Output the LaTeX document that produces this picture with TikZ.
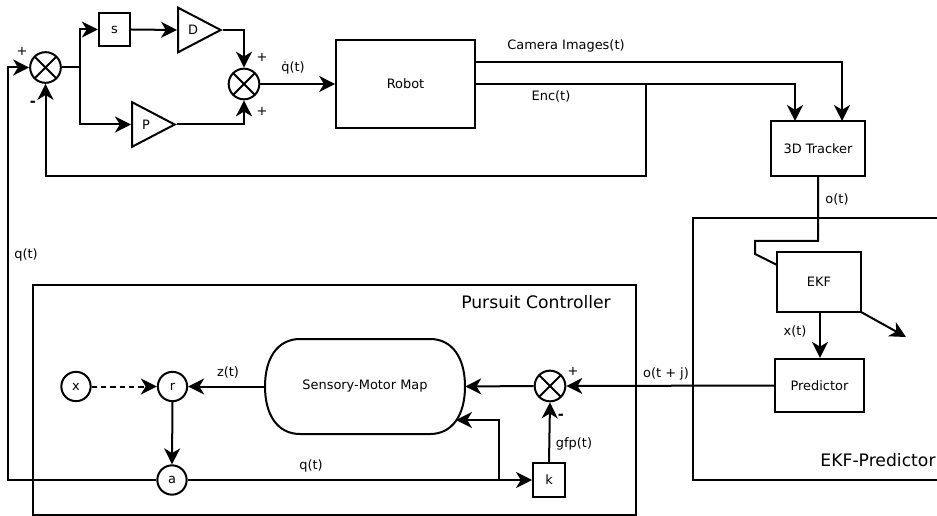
\documentclass[tikz,border=0pt]{standalone}
\usepackage{fontspec}
\setmainfont{DejaVu Sans}
\usetikzlibrary{arrows.meta,shapes.geometric,shapes.misc}
\tikzset{
  x=0.75pt,y=-0.75pt,
  every node/.style={font=\fontsize{9.7}{11}\selectfont,text=black},
  wire/.style={line width=1.5pt,line join=miter},
  arr/.style={wire,-{Stealth[length=12pt,width=12pt,inset=3.6pt]}},
  frame/.style={line width=1.5pt},
  boxn/.style={draw,line width=1.5pt,rectangle,inner sep=0pt,fill=white},
  sumn/.style={draw,line width=1.5pt,circle,inner sep=0pt,minimum size=23pt,fill=white,
    path picture={\draw[line width=1.5pt] (path picture bounding box.north west)--(path picture bounding box.south east)
      (path picture bounding box.north east)--(path picture bounding box.south west);}},
  circn/.style={draw,line width=1.5pt,circle,inner sep=0pt,minimum size=22pt,fill=white},
  gain/.style={draw,line width=1.5pt,isosceles triangle,isosceles triangle stretches,inner sep=0pt,
    minimum width=33.5pt,minimum height=32pt,anchor=lower side,fill=white},
  lab/.style={inner sep=0pt},
  big/.style={inner sep=0pt,font=\fontsize{12.9}{14}\selectfont},
  sign/.style={inner sep=0pt,font=\fontsize{9.7}{11}\selectfont},
  minus/.style={inner sep=0pt,font=\bfseries\fontsize{11}{11}\selectfont},
}
\begin{document}
\begin{tikzpicture}
\useasboundingbox (0,0) rectangle (937,516);
% frames
\draw[frame] (33,285) rectangle (636,515);
\draw[frame] (937,218) -- (693,218) -- (693,480) -- (937,480);
% nodes
\node[sumn] (s1) at (45.5,67.5) {};
\node[sumn] (s2) at (244,84) {};
\node[sumn] (s3) at (550,386) {};
\node[boxn,minimum width=23.5pt,minimum height=24.5pt] (s) at (114.5,29.5) {s};
\node[gain] (D) at (177,30) {};
\node[lab] (Dl) at (193,30) {D};
\node[gain] (P) at (131,124.5) {};
\node[lab] (Pl) at (146,124.5) {P};
\node[boxn,minimum width=104pt,minimum height=66pt] (robot) at (405.5,84) {Robot};
\node[boxn,minimum width=71pt,minimum height=41.5pt] (tracker) at (818,148.5) {3D Tracker};
\node[boxn,minimum width=63pt,minimum height=45pt] (ekf) at (819,282) {EKF};
\node[boxn,minimum width=66.5pt,minimum height=40pt] (pred) at (819.5,385.5) {Predictor};
\node[inner sep=0pt,minimum width=150pt,minimum height=71pt] (smm) at (365,386.5) {Sensory-Motor Map};
\draw[line width=1.5pt] (300,339) -- (430,339) .. controls (452,339) and (465,357.5) .. (465,386.5)
  .. controls (465,415.5) and (452,434) .. (430,434) -- (300,434)
  .. controls (278,434) and (265,415.5) .. (265,386.5)
  .. controls (265,357.5) and (278,339) .. (300,339) -- cycle;
\node[boxn,minimum width=24pt,minimum height=25pt] (k) at (549,480) {k};
\node[circn] (x) at (76,386.5) {x};
\node[circn] (r) at (172.5,386.5) {r};
\node[circn] (a) at (172,480) {a};
% helper coordinates
\coordinate (up) at (80,67.5);
\coordinate (cam) at (475,62);
\coordinate (enc) at (475,84);
\coordinate (t1) at (795,121);
\coordinate (t2) at (842,121);
\coordinate (fb) at (646,84);
\coordinate (fb2) at (646,176);
\coordinate (e1) at (818,241);
\coordinate (e2) at (755,241);
\coordinate (e3) at (755,254);
\coordinate (e4) at (777,265);
\coordinate (e5) at (820,312);
\coordinate (e6) at (861,312);
\coordinate (free) at (906,337);
\coordinate (j) at (499,480);
\coordinate (hit) at (456,420);
\coordinate (lft) at (8,480);
% connectors
\draw[wire] (s1.east) -- (up);
\draw[arr] (up) |- (s.west);
\draw[arr] (up) |- (P.lower side);
\draw[arr] (s.east) -- (D.lower side);
\draw[arr] (D.apex) -| (s2.north);
\draw[arr] (P.apex) -| (s2.south);
\draw[arr] (s2.east) -- (robot.west);
\draw[arr] (cam) -| (t2);
\draw[arr] (enc) -| (t1);
\draw[arr] (fb) -- (fb2) -| (s1.south);
\draw[wire] (tracker.south) -- (e1) -- (e2) -- (e3) -- (e4);
\draw[arr] (e5) -- (e5 |- pred.north);
\draw[arr] (e6) -- (free);
\draw[arr] (pred.west) -- (s3.east);
\draw[arr] (s3.west) -- (smm.east);
\draw[arr] (k.north) -- (s3.south);
\draw[arr] (smm.west) -- (r.east);
\draw[arr,dash pattern=on 4pt off 3pt] (x.east) -- (r.west);
\draw[arr] (r.south) -- (a.north);
\draw[arr] (a.east) -- (k.west);
\draw[arr] (j) |- (hit);
\draw[arr] (a.west) -- (lft) |- (s1.west);
% labels
\node[sign] (p1) at (22,51) {+};
\node[minus] (m1) at (33,104) {-};
\node[sign] (p2) at (262,57) {+};
\node[sign] (p3) at (262,111) {+};
\node[lab] (qd) at (293,68) {\.q(t)};
\node[lab] (cl) at (566,46) {Camera Images(t)};
\node[lab] (el) at (551,96) {Enc(t)};
\node[lab] (ol) at (837,199) {o(t)};
\node[lab] (q1) at (26,255) {q(t)};
\node[big] (pc) at (536,302) {Pursuit Controller};
\node[lab] (xl) at (795,331) {x(t)};
\node[lab] (zl) at (228,372) {z(t)};
\node[lab] (q2) at (311,466) {q(t)};
\node[lab] (gl) at (574,444) {gfp(t)};
\node[lab] (oj) at (666,374) {o(t + j)};
\node[sign] (p4) at (573,371) {+};
\node[minus] (m2) at (561,417) {-};
\node[big] (ep) at (878,460) {EKF-Predictor};
\end{tikzpicture}
\end{document}
